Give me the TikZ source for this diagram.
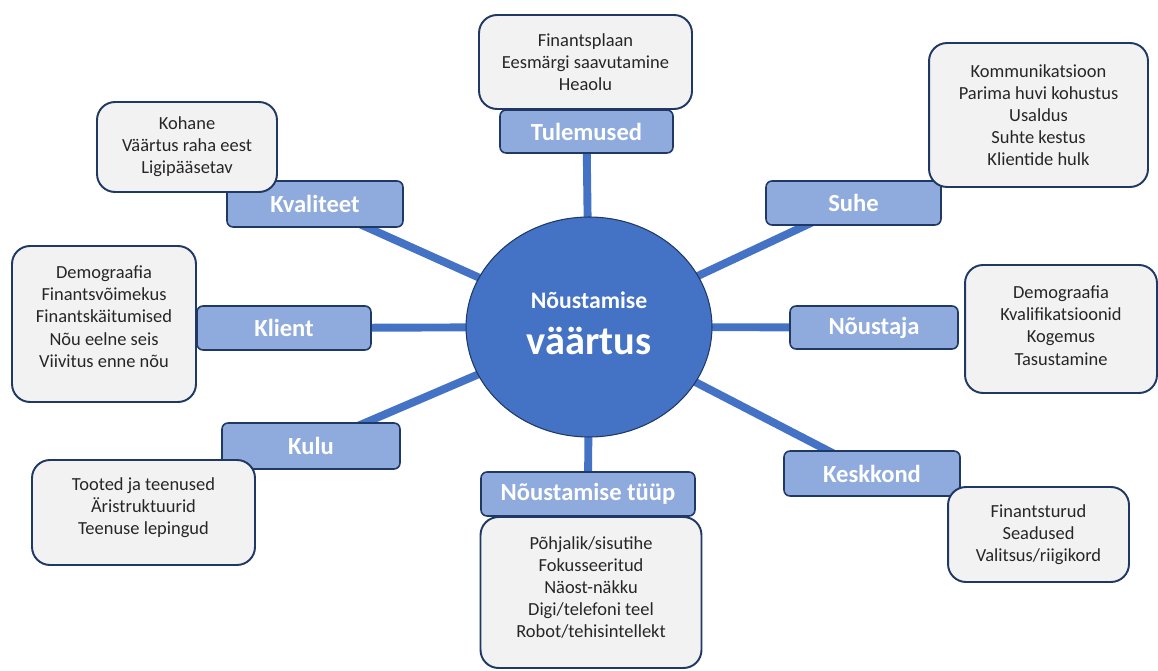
\documentclass[tikz,border=0pt]{standalone}
\usepackage{fontspec}
\setmainfont{Carlito}
\usetikzlibrary{shapes.geometric,backgrounds}
\definecolor{spokeblue}{HTML}{4472C4}
\definecolor{labelblue}{HTML}{8FAADC}
\definecolor{navy}{HTML}{203864}
\definecolor{infogray}{HTML}{F2F2F2}
\tikzset{
  labelbox/.style={draw=navy, line width=0.9pt, fill=labelblue, rounded corners=0.12cm,
    inner sep=0pt, text=white, font=\fontsize{14}{16}\selectfont\bfseries},
  infobox/.style={draw=navy, line width=1.1pt, fill=infogray, rounded corners=0.36cm,
    inner sep=0pt, align=center, text=black!85, font=\fontsize{10.5}{12.6}\selectfont},
  spoke/.style={draw=spokeblue, line width=4.5pt}
}
\begin{document}
\begin{tikzpicture}[x=0.02cm, y=-0.02cm]
    \useasboundingbox (0,0) rectangle (1158,671);
    \clip (0,0) rectangle (1158,671);
    % centre
    \node[ellipse, draw=navy, line width=0.6pt, fill=spokeblue, minimum width=4.92cm, minimum height=4.4cm,
      text=white, align=center, text depth=0.16cm, font=\fontsize{13.5}{26}\selectfont\bfseries] (c) at (589,327)
      {N\~oustamise\\{\fontsize{23}{26}\selectfont v\"a\"artus}};
    % labels
    \node[labelbox, minimum width=3.46cm, minimum height=0.86cm] (tul) at (586.5,131.5) {Tulemused};
    \node[labelbox, minimum width=3.5cm, minimum height=0.88cm] (suhe) at (853.5,203) {Suhe};
    \node[labelbox, minimum width=3.36cm, minimum height=0.86cm] (noust) at (874,327.5) {Nõustaja};
    \node[labelbox, minimum width=3.52cm, minimum height=0.9cm] (kesk) at (872,473.5) {Keskkond};
    \node[labelbox, minimum width=4.28cm, minimum height=0.88cm] (tyyp) at (588,494) {Nõustamise tüüp};
    \node[labelbox, minimum width=3.56cm, minimum height=0.92cm] (kulu) at (311,446) {Kulu};
    \node[labelbox, minimum width=3.48cm, minimum height=0.88cm] (klient) at (284,328) {Klient};
    \node[labelbox, minimum width=3.52cm, minimum height=0.92cm] (kval) at (315,204) {Kvaliteet};
    % info boxes
    \node[infobox, minimum width=4.26cm, minimum height=1.88cm] (tulinfo) at (585.5,62)
      {Finantsplaan\\Eesmärgi saavutamine\\Heaolu};
    \node[infobox, minimum width=4.38cm, minimum height=2.88cm] (suheinfo) at (1038.5,115)
      {Kommunikatsioon\\Parima huvi kohustus\\Usaldus\\Suhte kestus\\Klientide hulk};
    \node[infobox, minimum width=3.84cm, minimum height=2.56cm, text depth=0.14cm] (noustinfo) at (1061,329)
      {Demograafia\\Kvalifikatsioonid\\Kogemus\\Tasustamine};
    \node[infobox, minimum width=3.62cm, minimum height=1.9cm] (keskinfo) at (1038.5,534.5)
      {Finantsturud\\Seadused\\Valitsus/riigikord};
    \node[infobox, minimum width=4.42cm, minimum height=3.02cm, text depth=0.21cm] (tyypinfo) at (591,592.5)
      {Põhjalik/sisutihe\\Fokusseeritud\\Näost-näkku\\Digi/telefoni teel\\Robot/tehisintellekt};
    \node[infobox, minimum width=4.46cm, minimum height=2.1cm, text depth=0.27cm] (kuluinfo) at (143.5,512.5)
      {Tooted ja teenused\\Äristruktuurid\\Teenuse lepingud};
    \node[infobox, minimum width=3.68cm, minimum height=3.12cm, text depth=0.3cm] (klientinfo) at (104,324)
      {Demograafia\\Finantsvõimekus\\Finantskäitumised\\Nõu eelne seis\\Viivitus enne nõu};
    \node[infobox, minimum width=3.6cm, minimum height=1.8cm] (kvalinfo) at (187,147)
      {Kohane\\Väärtus raha eest\\Ligipääsetav};
    % spokes
    \begin{scope}[on background layer]
    \foreach \n in {tul,suhe,noust,kesk,tyyp,kulu,klient,kval}
      \draw[spoke] (c.center) -- (\n.center);
    \end{scope}
\end{tikzpicture}
\end{document}
